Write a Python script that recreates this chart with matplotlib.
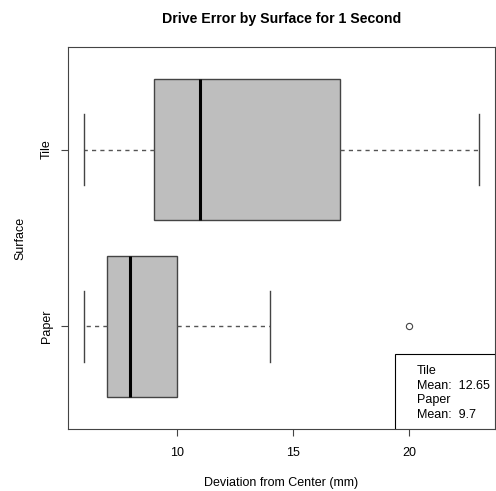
import matplotlib
matplotlib.use("Agg")
import matplotlib.pyplot as plt
from matplotlib.patches import Rectangle

plt.rcParams["font.family"] = ["Liberation Sans", "DejaVu Sans"]

surfaces = ["Paper", "Tile"]
whislo = [6, 6]
q1 = [7, 9]
med = [8, 11]
q3 = [10, 17]
whishi = [14, 23]
fliers = [[20], []]
means = [12.65, 9.7]   # Tile, Paper as written in the legend

stats = []
for i in range(len(surfaces)):
    stats.append({"label": surfaces[i], "whislo": whislo[i], "q1": q1[i],
                  "med": med[i], "q3": q3[i], "whishi": whishi[i],
                  "fliers": fliers[i]})

fig = plt.figure(figsize=(4.96, 4.91), dpi=100)
ax = fig.add_axes([68 / 496, 1 - 429 / 491, 427 / 496, 382 / 491])

edge = "#444444"
ax.bxp(stats, positions=[1, 2], widths=0.8, vert=False, patch_artist=True,
       showfliers=True,
       boxprops=dict(facecolor="#bebebe", edgecolor=edge, linewidth=1),
       medianprops=dict(color="black", linewidth=2.2),
       whiskerprops=dict(color="#555555", linestyle=(0, (3, 3)), linewidth=1),
       capprops=dict(color=edge, linewidth=1),
       capwidths=0.4,
       flierprops=dict(marker="o", markersize=4.5, markerfacecolor="none",
                       markeredgecolor=edge, markeredgewidth=0.8))

ax.set_xlim(5.32, 23.68)
ax.set_ylim(0.42, 2.58)
ax.set_xticks([10, 15, 20])
ax.set_yticks([1, 2])
ax.set_yticklabels(surfaces, rotation=90, va="center")
ax.tick_params(length=5, width=0.8, color=edge, labelsize=9, pad=8)
ax.tick_params(axis="y", pad=6)
for s in ax.spines.values():
    s.set_color(edge)
    s.set_linewidth(0.8)

ax.set_title("Drive Error by Surface for 1 Second", fontsize=10.2,
             fontweight="bold", pad=17)
ax.set_xlabel("Deviation from Center (mm)", fontsize=9, labelpad=13)
ax.set_ylabel("Surface", fontsize=9, labelpad=10)

# legend frame in the lower right corner
ax.add_patch(Rectangle((0.765, 0.0), 0.235, 0.196, transform=ax.transAxes,
                       facecolor="white", edgecolor="black", linewidth=0.8,
                       zorder=3))
legend_text = "Tile\nMean:  %s\nPaper\nMean:  %s" % (means[0], means[1])
ax.text(0.817, 0.094, legend_text, transform=ax.transAxes, fontsize=9,
        va="center", ha="left", linespacing=1.3, zorder=4)

fig.savefig("out.png", dpi=100)
